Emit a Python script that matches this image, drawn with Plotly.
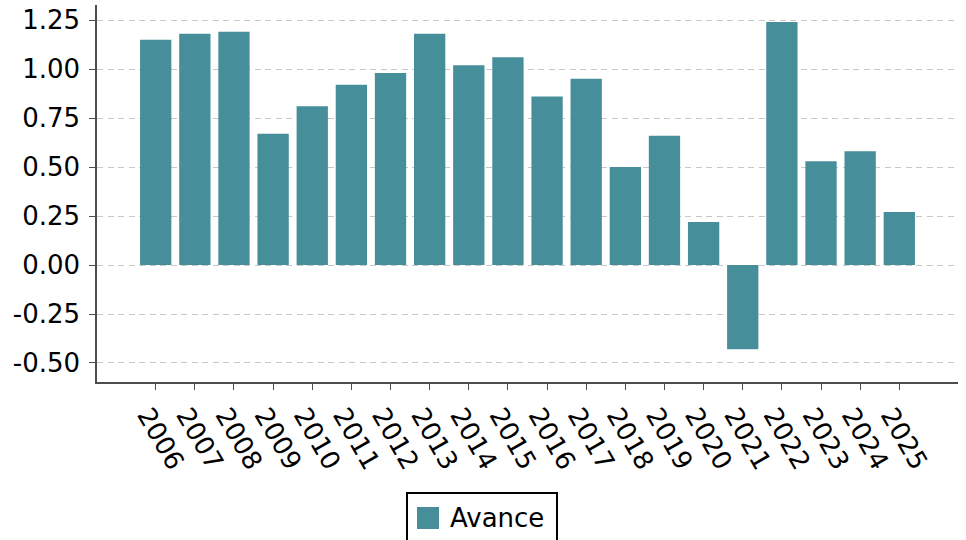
import plotly.graph_objects as go

# Annual values per year
years = [str(y) for y in range(2006, 2026)]
avance = [1.15, 1.18, 1.19, 0.67, 0.81, 0.92, 0.98, 1.18, 1.02, 1.06,
          0.86, 0.95, 0.50, 0.66, 0.22, -0.43, 1.24, 0.53, 0.58, 0.27]
y_ticks = [-0.50, -0.25, 0.00, 0.25, 0.50, 0.75, 1.00, 1.25]
y_tick_text = [f"{v:.2f}" for v in y_ticks]
series_name = "Avance"

BAR_COLOR = "#478e9b"
FONT = "DejaVu Sans"
FONT_SIZE = 26

# Figure and plot-area geometry (pixels)
W, H = 966, 540
ML, MR, MT, MB = 97, 8, 5, 158
PW, PH = W - ML - MR, H - MT - MB


def px_to_paper_x(px):
    return (px - ML) / PW


def px_to_paper_y(py):
    return (H - MB - py) / PH


fig = go.Figure()
fig.add_trace(go.Bar(
    x=years,
    y=avance,
    name=series_name,
    marker=dict(color=BAR_COLOR, line=dict(width=0)),
    width=0.8,
    showlegend=False,
))

axis_color = "#4d4d4d"
fig.update_layout(
    width=W,
    height=H,
    margin=dict(l=ML, r=MR, t=MT, b=MB, autoexpand=False),
    paper_bgcolor="white",
    plot_bgcolor="white",
    font=dict(family=FONT, size=FONT_SIZE, color="black"),
    bargap=0.2,
    showlegend=False,
)

# Legend box below the axis: framed swatch plus label
legend_box = dict(x0=407, x1=557, y0=493, y1=556)
swatch = dict(x0=417, x1=439, y0=507, y1=529)
fig.add_shape(
    type="rect", xref="paper", yref="paper",
    x0=px_to_paper_x(legend_box["x0"]), x1=px_to_paper_x(legend_box["x1"]),
    y0=px_to_paper_y(legend_box["y0"]), y1=px_to_paper_y(legend_box["y1"]),
    line=dict(color="black", width=2), fillcolor="white", layer="above",
)
fig.add_shape(
    type="rect", xref="paper", yref="paper",
    x0=px_to_paper_x(swatch["x0"]), x1=px_to_paper_x(swatch["x1"]),
    y0=px_to_paper_y(swatch["y0"]), y1=px_to_paper_y(swatch["y1"]),
    line=dict(width=0), fillcolor=BAR_COLOR, layer="above",
)
fig.add_annotation(
    xref="paper", yref="paper",
    x=px_to_paper_x(448), y=px_to_paper_y(518),
    xanchor="left", yanchor="middle",
    text=series_name, showarrow=False,
    font=dict(family=FONT, size=FONT_SIZE, color="black"),
)

fig.update_xaxes(
    type="category",
    range=[-1.5, 20.5],
    showline=True, linecolor=axis_color, linewidth=1.5,
    ticks="outside", ticklen=6, tickwidth=1.2, tickcolor=axis_color,
    tickangle=60,
    ticklabelshift=-8,
    showgrid=False, zeroline=False,
    tickfont=dict(family=FONT, size=FONT_SIZE, color="black"),
)
fig.update_yaxes(
    range=[-0.597, 1.327],
    tickvals=y_ticks, ticktext=y_tick_text,
    showline=True, linecolor=axis_color, linewidth=1.5,
    ticks="outside", ticklen=6, tickwidth=1.2, tickcolor=axis_color,
    ticklabelstandoff=4,
    showgrid=True, gridcolor="#c8c8c8", gridwidth=1.2, griddash="6px,4.5px",
    zeroline=False,
    tickfont=dict(family=FONT, size=FONT_SIZE, color="black"),
)

fig.write_html("out.html")
